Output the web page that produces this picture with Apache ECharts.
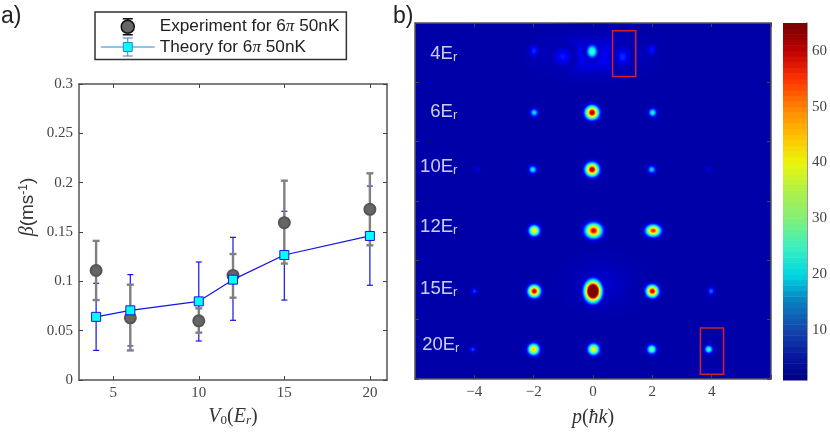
<!DOCTYPE html>
<html>
<head>
<meta charset="utf-8">
<script src="https://cdn.jsdelivr.net/npm/echarts@6/dist/echarts.min.js"></script>
<style>
html, body { margin: 0; padding: 0; background: #fff; }
#chart-area { width: 830px; height: 433px; }
</style>
</head>
<body>
<div id="chart-area"></div>
<script>
// panel a
const depths = [4, 6, 10, 12, 15, 20];
const expBeta = [0.111, 0.063, 0.060, 0.106, 0.1595, 0.173];
const expLow = [0.081, 0.030, 0.048, 0.0834, 0.118, 0.1365];
const expHigh = [0.141, 0.0966, 0.0726, 0.1277, 0.202, 0.2095];
const theoryBeta = [0.064, 0.0706, 0.0797, 0.1017, 0.1267, 0.146];
const theoryLow = [0.030, 0.0345, 0.0395, 0.0605, 0.081, 0.096];
const theoryHigh = [0.098, 0.1068, 0.1196, 0.1446, 0.171, 0.1965];
const depthTicks = [5, 10, 15, 20];

// panel b: one entry per peak, widths are in axis units
const spotP = [0, 0.3, -1.99, -1.02, -0.03, 1.0, 1.98, -1.98, -0.03, 2.01, -3.9, -2.03, -0.03, 1.98, 3.9, -1.98, 0.02, 2.03, -4, -1.98, 0, 2, 3.98, -4.05, -2, 0.02, 1.98, 3.9];
const spotRow = [5.45, 1.6, 5.53, 5.43, 5.52, 5.43, 5.55, 4.49, 4.49, 4.49, 3.53, 3.53, 3.53, 3.53, 3.53, 2.5, 2.5, 2.5, 1.48, 1.48, 1.48, 1.48, 1.48, 0.5, 0.5, 0.5, 0.5, 0.5];
const spotPeak = [10, 7, 12, 11, 27, 12, 11, 21, 64, 23, 8, 22, 64, 20, 8, 44, 60, 56, 13, 62, 110, 62, 15, 13, 46, 42, 30, 26];
const spotWidthP = [3.1, 2.2, 0.34, 0.6, 0.38, 0.5, 0.3, 0.28, 0.44, 0.28, 0.22, 0.28, 0.44, 0.28, 0.22, 0.36, 0.54, 0.48, 0.22, 0.4, 0.5, 0.4, 0.24, 0.22, 0.38, 0.38, 0.32, 0.28];
const spotWidthRow = [0.62, 0.85, 0.22, 0.3, 0.23, 0.32, 0.2, 0.14, 0.22, 0.15, 0.11, 0.14, 0.22, 0.14, 0.11, 0.18, 0.24, 0.19, 0.11, 0.2, 0.32, 0.2, 0.14, 0.11, 0.19, 0.19, 0.16, 0.14];
const rowLabels = ['4', '6', '10', '12', '15', '20'];
const rowLabelP = [-5.03, -5.03, -5.2, -5.2, -5.2, -5.13];
const rowLabelY = [5.48, 4.5, 3.58, 2.56, 1.52, 0.58];
const boxP = [[0.66, 1.44], [3.62, 4.4]];
const boxRow = [[5.1, 5.87], [0.08, 0.86]];
const colorTicks = [10, 20, 30, 40, 50, 60];
const colorLevels = [];
for (let i = 1; i < 65; i++) colorLevels.push(i);

const spotColors = [[1, [0, 0, 130]], [5, [0, 0, 168]], [10, [0, 0, 255]], [14, [0, 90, 255]], [21, [0, 235, 255]], [30, [120, 255, 130]], [42, [255, 255, 0]], [50, [255, 130, 0]], [57, [255, 0, 0]], [65, [125, 0, 0]]];
const barColors = [[1, [0, 0, 130]], [5, [5, 20, 160]], [10, [20, 70, 170]], [15, [10, 125, 190]], [20, [0, 215, 225]], [25, [60, 240, 190]], [30, [130, 240, 120]], [35, [175, 240, 70]], [40, [235, 245, 10]], [45, [255, 190, 0]], [50, [255, 130, 0]], [55, [255, 50, 0]], [60, [190, 0, 0]], [65, [120, 0, 0]]];

function pickColor(stops, v, alpha) {
	v = Math.max(stops[0][0], Math.min(stops[stops.length - 1][0], v));
	for (let i = 1; i < stops.length; i++) {
		if (v <= stops[i][0]) {
			let t = (v - stops[i - 1][0]) / (stops[i][0] - stops[i - 1][0]);
			let c = stops[i - 1][1].map((a, k) => Math.round(a + (stops[i][1][k] - a) * t));
			return 'rgba(' + c.join(',') + ',' + alpha + ')';
		}
	}
}

function spotGradient(peak) {
	let colorStops = [];
	for (let t = 0; t <= 1.0001; t += 0.05) {
		let v = 5 + (peak - 5) * Math.exp(-Math.pow(t * 2.3, 2));
		colorStops.push({ offset: Math.min(t, 1), color: pickColor(spotColors, v, Math.min(1, (1 - t) * 3.5).toFixed(2)) });
	}
	return { type: 'radial', x: 0.5, y: 0.5, r: 0.5, colorStops: colorStops };
}

function renderSpot(params, api) {
	let c = api.coord([api.value(0), api.value(1)]);
	let s = api.size([api.value(3), api.value(4)]);
	return {
		type: 'circle',
		x: c[0],
		y: c[1],
		scaleX: s[0] / s[1],
		shape: { cx: 0, cy: 0, r: s[1] },
		style: { fill: spotGradient(api.value(2)) }
	};
}

function renderBox(params, api) {
	let a = api.coord([api.value(0), api.value(3)]);
	let b = api.coord([api.value(1), api.value(2)]);
	return {
		type: 'rect',
		shape: { x: a[0], y: a[1], width: b[0] - a[0], height: b[1] - a[1] },
		style: { fill: 'none', stroke: '#d3202e', lineWidth: 1.5 }
	};
}

function renderLevel(params, api) {
	let p = api.coord([0, api.value(0)]);
	let q = api.coord([1, api.value(0) + 1]);
	return {
		type: 'rect',
		shape: { x: p[0], y: q[1], width: q[0] - p[0], height: p[1] - q[1] + 0.5 },
		style: { fill: pickColor(barColors, api.value(0) + 0.5, 1) }
	};
}

function errorRenderer(color, width, capHalf) {
	return function (params, api) {
		let x = api.value(0);
		let lo = api.coord([x, api.value(1)]);
		let hi = api.coord([x, api.value(2)]);
		let style = { stroke: color, lineWidth: width, fill: 'none' };
		return {
			type: 'group',
			children: [
				{ type: 'line', shape: { x1: lo[0], y1: lo[1], x2: hi[0], y2: hi[1] }, style: style },
				{ type: 'line', shape: { x1: lo[0] - capHalf, y1: lo[1], x2: lo[0] + capHalf, y2: lo[1] }, style: style },
				{ type: 'line', shape: { x1: hi[0] - capHalf, y1: hi[1], x2: hi[0] + capHalf, y2: hi[1] }, style: style }
			]
		};
	};
}

const expName = 'Experiment for 6π 50nK';
const theoryName = 'Theory for 6π 50nK';
const serif = '"Liberation Serif"';
const sans = '"Liberation Sans"';
const axisGray = '#444';
const tickGray = { show: true, inside: true, length: 4, lineStyle: { color: axisGray, width: 1 } };
const boxLine = { show: true, onZero: false, lineStyle: { color: '#555', width: 1.5 } };

let myChart = echarts.init(document.getElementById('chart-area'));
let option = {
	animation: false,
	backgroundColor: '#fff',
	title: [
		{ text: 'a)', left: -4, top: 0, textStyle: { fontFamily: sans, fontWeight: 'normal', fontSize: 23, color: '#222' } },
		{ text: 'b)', left: 388, top: 0, textStyle: { fontFamily: sans, fontWeight: 'normal', fontSize: 23, color: '#222' } }
	],
	legend: {
		left: 95,
		top: 12,
		orient: 'vertical',
		padding: [6, 7, 3, 5],
		itemGap: 2,
		itemWidth: 54,
		itemHeight: 20,
		borderColor: '#333',
		borderWidth: 1.5,
		data: [
			{
				name: expName,
				icon: 'path://M0 9L0 9M54 9L54 9M22 1H32M27 1V3M27 15V17M22 17H32M33.5 9A6.5 6.5 0 1 1 20.5 9A6.5 6.5 0 1 1 33.5 9Z',
				itemStyle: { color: '#666', borderColor: '#111', borderWidth: 1.5 }
			},
			{
				name: theoryName,
				icon: 'path://M0 9H22.5M31.5 9H54M22 0H32M22 18H32M27 0V4.5M27 13.5V18M22.5 4.5H31.5V13.5H22.5Z',
				itemStyle: { color: '#00ffff', borderColor: '#2a86d0', borderWidth: 1 }
			}
		],
		formatter: function (name) {
			let parts = name.split('π');
			return '{t|' + parts[0] + '}{p|π}{t|' + parts[1] + '}';
		},
		textStyle: {
			rich: {
				t: { fontFamily: sans, fontSize: 17.2, color: '#222' },
				p: { fontFamily: serif, fontStyle: 'italic', fontSize: 17.2, color: '#222' }
			}
		}
	},
	grid: [
		{ left: 79, top: 84, width: 308, height: 296 },
		{ left: 415, top: 23, width: 356, height: 357, show: true, backgroundColor: '#0000a8', borderWidth: 0 },
		{ left: 783, top: 23, width: 26, height: 357 }
	],
	xAxis: [
		{
			gridIndex: 0, type: 'value', min: 3, max: 21, splitLine: { show: false },
			axisLine: boxLine,
			axisTick: Object.assign({ customValues: depthTicks }, tickGray),
			axisLabel: { customValues: depthTicks, color: axisGray, fontFamily: serif, fontSize: 15, margin: 6 },
			name: '{i|V}{s|0}{n|(}{i|E}{t|r}{n|)}',
			nameLocation: 'middle',
			nameGap: 27,
			nameTextStyle: {
				rich: {
					i: { fontFamily: serif, fontStyle: 'italic', fontSize: 20, color: '#333' },
					n: { fontFamily: serif, fontSize: 20, color: '#333' },
					s: { fontFamily: serif, fontSize: 13, color: '#333', padding: [7, 0, 0, 0] },
					t: { fontFamily: serif, fontStyle: 'italic', fontSize: 13, color: '#333', padding: [7, 0, 0, 0] }
				}
			}
		},
		{
			gridIndex: 0, type: 'value', min: 3, max: 21, position: 'top', splitLine: { show: false },
			axisLine: boxLine,
			axisTick: Object.assign({ customValues: depthTicks }, tickGray),
			axisLabel: { show: false }
		},
		{
			gridIndex: 1, type: 'value', min: -6, max: 6, interval: 2, splitLine: { show: false },
			axisLine: boxLine,
			axisTick: tickGray,
			axisLabel: {
				color: axisGray, fontFamily: serif, fontSize: 15, margin: 6,
				formatter: function (v) { return Math.abs(v) === 6 ? '' : String(v).replace('-', '−'); }
			},
			name: '{i|p}{n|(}{i|ħk}{n|)}',
			nameLocation: 'middle',
			nameGap: 29,
			nameTextStyle: {
				rich: {
					i: { fontFamily: serif, fontStyle: 'italic', fontSize: 20, color: '#333' },
					n: { fontFamily: serif, fontSize: 20, color: '#333' }
				}
			}
		},
		{
			gridIndex: 1, type: 'value', min: -6, max: 6, interval: 2, position: 'top', splitLine: { show: false },
			axisLine: boxLine,
			axisTick: tickGray,
			axisLabel: { show: false }
		},
		{
			gridIndex: 2, type: 'value', min: 0, max: 1, show: false
		}
	],
	yAxis: [
		{
			gridIndex: 0, type: 'value', min: 0, max: 0.3, interval: 0.05, splitLine: { show: false },
			axisLine: boxLine,
			axisTick: tickGray,
			axisLabel: { color: axisGray, fontFamily: serif, fontSize: 15, margin: 6 },
			name: '{b|β}{n|(ms}{u|-1}{n|)}',
			nameLocation: 'middle',
			nameGap: 41,
			nameTextStyle: {
				padding: [0, 0, 0, 50],
				rich: {
					b: { fontFamily: serif, fontStyle: 'italic', fontSize: 20, color: '#333' },
					n: { fontFamily: sans, fontSize: 19, color: '#333' },
					u: { fontFamily: sans, fontSize: 12, color: '#333', padding: [0, 0, 8, 0] }
				}
			}
		},
		{
			gridIndex: 0, type: 'value', min: 0, max: 0.3, interval: 0.05, position: 'right', splitLine: { show: false },
			axisLine: boxLine,
			axisTick: tickGray,
			axisLabel: { show: false }
		},
		{
			gridIndex: 1, type: 'value', min: 0, max: 6, interval: 1, splitLine: { show: false },
			axisLine: boxLine,
			axisTick: tickGray,
			axisLabel: { show: false }
		},
		{
			gridIndex: 1, type: 'value', min: 0, max: 6, interval: 1, position: 'right', splitLine: { show: false },
			axisLine: boxLine,
			axisTick: tickGray,
			axisLabel: { show: false }
		},
		{
			gridIndex: 2, type: 'value', min: 1, max: 65, position: 'right', splitLine: { show: false },
			axisLine: { show: true, onZero: false, lineStyle: { color: '#777', width: 1.5 } },
			axisTick: Object.assign({ customValues: colorTicks }, tickGray),
			axisLabel: { customValues: colorTicks, color: axisGray, fontFamily: serif, fontSize: 15, margin: 5 }
		}
	],
	series: [
		{
			name: theoryName, type: 'custom', xAxisIndex: 0, yAxisIndex: 0, z: 2,
			renderItem: errorRenderer('#1414e6', 1.2, 3),
			encode: { x: 0, y: [1, 2] },
			data: depths.map((d, i) => [d, theoryLow[i], theoryHigh[i]])
		},
		{
			name: expName, type: 'custom', xAxisIndex: 0, yAxisIndex: 0, z: 3,
			renderItem: errorRenderer('#808080', 2.4, 3.5),
			encode: { x: 0, y: [1, 2] },
			data: depths.map((d, i) => [d, expLow[i], expHigh[i]])
		},
		{
			name: expName, type: 'scatter', xAxisIndex: 0, yAxisIndex: 0, z: 4,
			symbol: 'circle', symbolSize: 11,
			itemStyle: { color: '#666', borderColor: '#555', borderWidth: 2, opacity: 1 },
			data: depths.map((d, i) => [d, expBeta[i]])
		},
		{
			name: theoryName, type: 'line', xAxisIndex: 0, yAxisIndex: 0, z: 5,
			symbol: 'rect', symbolSize: 9,
			lineStyle: { color: '#1414e6', width: 1.2 },
			itemStyle: { color: '#00ffff', borderColor: '#1414e6', borderWidth: 1 },
			data: depths.map((d, i) => [d, theoryBeta[i]])
		},
		{
			type: 'custom', xAxisIndex: 2, yAxisIndex: 2, z: 2, clip: true,
			renderItem: renderSpot,
			encode: { x: 0, y: 1 },
			data: spotP.map((p, i) => [p, spotRow[i], spotPeak[i], spotWidthP[i], spotWidthRow[i]])
		},
		{
			type: 'custom', xAxisIndex: 2, yAxisIndex: 2, z: 3,
			renderItem: renderBox,
			encode: { x: [0, 1], y: [2, 3] },
			data: boxP.map((p, i) => [p[0], p[1], boxRow[i][0], boxRow[i][1]])
		},
		{
			type: 'scatter', xAxisIndex: 2, yAxisIndex: 2, z: 4, symbolSize: 0,
			label: {
				show: true,
				position: 'inside',
				formatter: function (p) { return '{b|' + p.name + 'E}{s|r}'; },
				rich: {
					b: { fontFamily: sans, fontSize: 18.5, color: '#ffffff' },
					s: { fontFamily: sans, fontSize: 13, color: '#ffffff', padding: [7, 0, 0, 0] }
				}
			},
			data: rowLabels.map((t, i) => ({ name: t, value: [rowLabelP[i], rowLabelY[i]] }))
		},
		{
			type: 'custom', xAxisIndex: 4, yAxisIndex: 4, z: 1,
			renderItem: renderLevel,
			encode: { y: 0 },
			data: colorLevels.map(v => [v])
		}
	]
};

option && myChart.setOption(option);
</script>
</body>
</html>
